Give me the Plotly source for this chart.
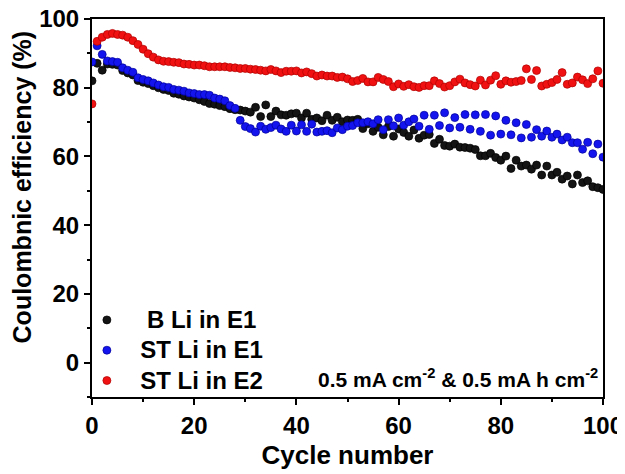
import plotly.graph_objects as go

cycles = list(range(0, 101))

b_li_e1 = [82.0, 87.1, 85.1, 86.9, 86.8, 86.6, 85.0, 84.3, 83.7, 82.1, 81.6, 81.2, 80.6, 80.0, 79.5, 79.2, 78.4, 78.1, 77.6, 77.3,
           77.0, 76.5, 76.0, 75.4, 75.2, 74.8, 74.5, 73.9, 73.6, 73.5, 73.2, 72.9, 74.3, 71.6, 75.0, 71.6, 73.2, 72.1, 72.0, 72.4,
           72.6, 71.2, 72.6, 70.8, 71.2, 70.4, 72.0, 70.5, 71.4, 70.1, 70.6, 70.5, 70.8, 68.1, 69.5, 67.3, 68.5, 66.3, 68.7, 65.9,
           68.0, 67.0, 65.9, 67.7, 65.3, 66.2, 66.4, 63.8, 65.0, 63.2, 63.0, 63.6, 62.7, 62.6, 62.4, 62.0, 60.2, 60.2, 60.9, 59.7,
           58.9, 60.1, 56.5, 58.9, 57.2, 57.5, 56.3, 57.5, 54.6, 57.2, 54.6, 55.4, 53.4, 54.3, 52.0, 54.6, 52.4, 52.9, 51.2, 50.9,
           50.4]

st_li_e1 = [87.5, 92.2, 89.7, 87.8, 87.6, 87.4, 85.8, 85.1, 84.5, 82.9, 82.4, 82.0, 81.4, 80.8, 80.3, 80.1, 79.5, 79.3, 79.0, 78.5,
            78.3, 78.0, 78.0, 77.8, 77.0, 76.7, 76.2, 74.8, 74.0, 70.5, 68.7, 68.1, 67.1, 68.8, 67.9, 68.4, 69.1, 68.0, 67.3, 69.1,
            67.4, 69.2, 67.3, 69.4, 67.1, 67.3, 67.5, 66.9, 68.3, 67.8, 68.8, 69.0, 69.8, 69.8, 70.1, 69.5, 70.7, 67.8, 70.7, 68.9,
            71.2, 69.1, 70.1, 70.9, 68.8, 72.0, 67.9, 72.0, 69.0, 72.7, 68.3, 71.3, 68.5, 72.2, 67.9, 72.1, 67.3, 72.2, 66.2, 71.8,
            66.5, 70.5, 66.3, 69.8, 65.4, 69.3, 65.6, 67.8, 65.9, 67.4, 65.6, 66.5, 64.8, 65.6, 64.0, 64.0, 62.1, 64.1, 60.8, 63.6,
            59.8]

st_li_e2 = [75.3, 93.5, 94.7, 95.5, 95.8, 95.5, 95.3, 94.7, 93.7, 92.6, 91.2, 89.9, 88.9, 88.1, 87.7, 87.6, 87.4, 87.3, 86.9, 86.8,
            86.6, 86.6, 86.4, 86.1, 86.1, 86.1, 86.1, 85.9, 85.8, 85.6, 85.6, 85.4, 85.3, 85.1, 84.9, 85.3, 84.9, 84.4, 84.8, 84.8,
            84.9, 84.3, 84.6, 84.1, 83.4, 83.7, 83.4, 83.4, 83.0, 83.1, 82.6, 81.8, 82.1, 82.7, 81.7, 81.7, 83.0, 82.4, 81.8, 80.3,
            81.1, 80.4, 80.9, 80.3, 80.1, 80.6, 80.6, 82.0, 81.2, 80.2, 80.6, 81.7, 82.5, 81.4, 80.9, 80.5, 82.2, 80.8, 82.2, 83.5,
            81.0, 82.0, 81.6, 81.8, 82.1, 85.5, 82.4, 85.0, 80.5, 81.0, 81.5, 82.4, 84.4, 81.0, 81.4, 83.1, 82.3, 81.2, 82.6, 84.9,
            81.3]

series_names = ["B Li in E1", "ST Li in E1", "ST Li in E2"]
legend_pad = ["\u00a0\u00a0\u00a0", "\u00a0\u00a0", "\u00a0\u00a0"]
series_values = [b_li_e1, st_li_e1, st_li_e2]
series_colors = ["#141414", "#1414ee", "#f01212"]
series_lines = ["#000000", "#00009a", "#b00000"]

x_ticks = [0, 20, 40, 60, 80, 100]
y_ticks = [0, 20, 40, 60, 80, 100]

FONT = "Liberation Sans, Arial, sans-serif"

fig = go.Figure()
for name, pad, vals, col, lc in zip(series_names, legend_pad, series_values, series_colors, series_lines):
    fig.add_trace(go.Scatter(
        x=cycles, y=vals, mode="markers",
        name=f'<span style="font-size:24px"><b>{pad}{name}</b></span>',
        marker=dict(size=8, color=col, line=dict(color=lc, width=0.7)),
    ))

fig.add_annotation(
    x=0.995, y=0.01, xref="paper", yref="paper", xanchor="right", yanchor="bottom",
    text="<b>0.5 mA cm<sup>-2</sup> & 0.5 mA h cm<sup>-2</sup></b>",
    showarrow=False, font=dict(family=FONT, size=21, color="black"),
)

axis_common = dict(
    showline=True, linecolor="black", linewidth=2, mirror=True,
    ticks="outside", ticklen=6, tickwidth=2, tickcolor="black",
    showgrid=False, zeroline=False, ticklabeloverflow="allow",
    tickfont=dict(family=FONT, size=24, color="black"),
)

fig.update_xaxes(
    range=[0, 100], tickvals=x_ticks, ticktext=[f"<b>{t}</b>" for t in x_ticks],
    minor=dict(ticks="outside", ticklen=3, tickwidth=2, tickcolor="black", dtick=10, tick0=0),
    title=dict(text="<b>Cycle number</b>", font=dict(family=FONT, size=26, color="black"), standoff=8),
    automargin=False, **axis_common,
)
fig.update_yaxes(
    range=[-10, 100], tickvals=y_ticks, ticktext=[f"<b>{t}</b>" for t in y_ticks],
    minor=dict(ticks="outside", ticklen=3, tickwidth=2, tickcolor="black", dtick=10, tick0=0),
    title=dict(text="<b>\u00a0\u00a0\u00a0\u00a0\u00a0\u00a0Coulombnic efficiency (%)</b>",
               font=dict(family=FONT, size=25, color="black"), standoff=6),
    automargin=False, **axis_common,
)

fig.update_layout(
    width=617, height=466,
    margin=dict(l=84, r=22, t=11, b=77),
    paper_bgcolor="white", plot_bgcolor="white",
    legend=dict(
        x=-0.01, y=-0.01, xanchor="left", yanchor="bottom",
        bgcolor="rgba(0,0,0,0)",
        font=dict(family=FONT, size=21, color="black"), itemsizing="trace",
    ),
    showlegend=True,
)

fig.write_html("out.html")
